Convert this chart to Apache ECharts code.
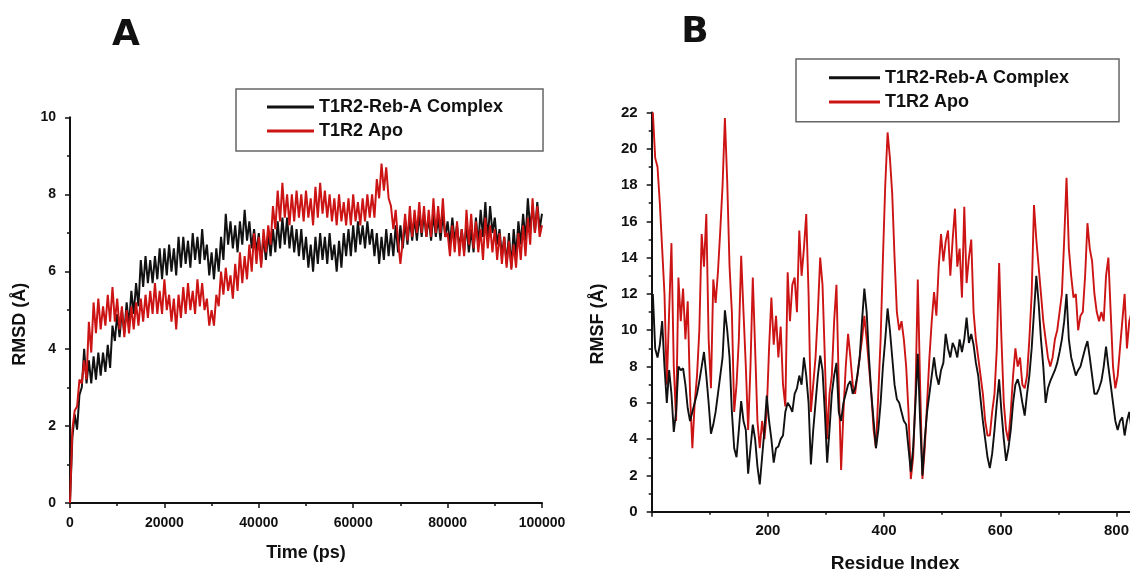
<!DOCTYPE html>
<html>
<head>
<meta charset="utf-8">
<script src="https://cdn.jsdelivr.net/npm/echarts@6/dist/echarts.min.js"></script>
<style>
html,body{margin:0;padding:0;background:#fff;}
#chart{width:1130px;height:572px;}
</style>
</head>
<body>
<div id="chart"></div>
<script>
// ---------- Panel A : RMSD vs time ----------
const RMSD_TIME_STEP = 500; // ps between samples
const rmsdComplex = [
0,1.7,2.3,1.9,2.8,3.0,4.0,3.1,3.7,3.1,
3.8,3.2,3.9,3.3,3.9,3.4,4.1,3.5,4.6,4.2,
4.9,4.3,5.0,4.4,5.2,4.6,5.5,4.9,5.7,5.1,
6.3,5.6,6.4,5.7,6.3,5.7,6.4,5.8,6.6,5.8,
6.6,5.9,6.7,6.0,6.6,5.9,6.9,6.1,6.9,6.2,
6.8,6.1,7.0,6.3,6.9,6.2,7.1,6.3,6.7,5.9,
6.5,5.8,6.6,6.0,6.9,6.3,7.5,6.7,7.3,6.6,
7.2,6.5,7.3,6.7,7.6,6.8,7.3,6.6,7.1,6.5,
7.0,6.2,6.9,6.3,7.0,6.4,7.1,6.5,7.3,6.6,
7.4,6.7,7.4,6.6,7.2,6.5,7.1,6.4,7.1,6.3,
6.9,6.1,6.7,6.0,6.9,6.2,7.0,6.3,6.9,6.2,
7.0,6.3,6.7,6.0,6.8,6.1,7.0,6.4,7.1,6.4,
7.2,6.5,7.3,6.7,7.2,6.6,7.3,6.7,7.1,6.4,
7.0,6.2,6.9,6.3,7.1,6.4,7.0,6.4,7.2,6.5,
7.2,6.6,7.3,6.7,7.4,6.8,7.4,6.8,7.5,6.9,
7.5,6.9,7.4,6.8,7.5,6.9,7.4,6.8,7.5,6.9,
7.3,6.7,7.4,6.8,7.2,6.6,7.1,6.5,7.2,6.5,
7.1,6.5,7.4,6.7,7.6,6.9,7.8,6.8,7.7,7.0,
7.4,6.7,7.1,6.4,6.9,6.2,7.0,6.1,7.1,6.4,
7.3,6.7,7.5,6.8,7.9,7.1,7.7,7.0,7.8,7.1,
7.5];
const rmsdApo = [
0,1.9,2.4,2.5,3.2,3.1,3.7,3.2,4.7,3.9,
5.2,4.4,5.3,4.5,5.1,4.6,5.4,4.7,5.6,4.7,
5.3,4.5,5.1,4.3,5.0,4.4,5.1,4.5,5.2,4.6,
5.3,4.7,5.4,4.8,5.5,4.9,5.7,4.9,5.5,4.9,
5.8,5.0,5.4,4.7,5.3,4.5,5.4,4.8,5.6,4.9,
5.7,5.0,5.5,4.9,5.8,5.1,5.7,5.0,5.3,4.6,
5.0,4.6,5.4,5.1,6.0,5.4,6.1,5.5,5.9,5.3,
6.2,5.5,6.5,5.7,6.4,5.8,6.7,6.0,7.0,6.2,
6.9,6.1,7.1,6.5,7.2,6.7,7.7,7.1,8.1,7.3,
8.3,7.4,8.0,7.2,8.0,7.3,8.1,7.4,8.0,7.3,
8.1,7.4,7.9,7.2,8.2,7.4,8.3,7.5,8.1,7.4,
8.0,7.3,7.9,7.2,8.0,7.3,7.8,7.2,7.9,7.2,
8.0,7.3,7.8,7.2,7.9,7.3,8.0,7.4,8.0,7.4,
8.4,7.9,8.8,8.1,8.7,7.9,7.7,7.1,7.6,6.8,
6.2,6.8,7.5,6.8,7.7,6.9,7.6,7.0,7.8,7.0,
7.7,6.9,7.6,6.9,7.9,7.0,7.7,7.0,7.9,6.9,
7.0,6.4,7.2,6.5,7.3,6.4,7.1,6.4,7.6,6.7,
7.5,6.6,7.3,6.5,7.1,6.3,7.4,6.6,7.2,6.5,
7.1,6.3,7.0,6.2,6.9,6.1,6.8,6.05,6.7,6.1,
7.0,6.3,7.2,6.4,7.4,6.7,7.9,7.0,7.7,6.9,
7.2];
const rmsdXTicks = [0, 20000, 40000, 60000, 80000, 100000];
const rmsdYTicks = [0, 2, 4, 6, 8, 10];

// ---------- Panel B : RMSF vs residue ----------
const RESIDUE_START = 2, RESIDUE_STEP = 4;
const rmsfComplex = [
12.0,9.0,8.5,9.2,10.5,8.0,6.0,7.8,6.5,4.4,
5.5,8.0,7.8,7.9,7.0,5.7,5.0,5.5,6.0,6.5,
7.2,8.0,8.8,7.5,6.0,4.3,4.8,5.5,6.5,7.5,
8.5,11.1,10.0,8.5,5.5,3.5,3.0,4.5,6.1,5.0,
4.5,2.1,3.5,4.8,4.0,2.5,1.5,3.0,4.5,6.4,
5.0,4.0,2.7,3.5,3.6,4.0,4.2,5.5,6.0,5.8,
5.5,6.5,6.8,7.5,7.0,8.5,7.5,6.0,2.6,4.5,
6.0,7.5,8.6,7.8,5.5,2.7,4.5,6.5,7.5,8.2,
5.5,5.0,6.0,6.5,7.0,7.2,6.5,6.8,7.5,8.5,
10.5,12.3,11.0,8.5,6.5,5.0,3.5,4.5,6.0,8.0,
9.5,11.2,10.0,8.5,7.0,6.2,6.0,5.5,5.0,4.8,
3.5,2.2,3.5,6.0,8.7,5.0,2.0,4.0,5.5,6.5,
7.5,8.5,7.5,7.0,7.8,8.2,9.8,9.0,8.5,9.3,
9.0,8.5,9.5,8.8,9.5,10.7,9.3,9.8,9.2,8.2,
7.5,6.2,5.0,4.0,3.0,2.4,3.2,4.5,6.0,7.3,
5.5,4.0,2.8,3.5,4.5,6.0,7.0,7.3,6.8,6.0,
5.3,6.5,7.5,9.0,11.0,13.0,11.5,9.5,8.0,6.0,
6.8,7.2,7.5,7.8,8.2,8.8,9.5,10.5,12.0,9.5,
8.5,8.0,7.5,7.8,8.0,8.5,9.0,9.4,8.5,7.5,
6.5,6.5,6.8,7.2,8.0,9.1,8.0,7.0,6.0,5.0,
4.5,5.0,5.2,4.2,5.0,5.5,4.5,5.0];
const rmsfApo = [
22.0,19.5,19.0,17.0,14.5,12.0,7.0,11.0,14.8,8.0,
5.0,12.9,10.5,12.3,9.5,11.6,6.5,3.5,6.0,7.5,
10.0,15.3,13.5,16.4,9.5,6.8,12.8,11.5,13.2,15.5,
18.0,21.7,18.2,13.5,11.0,5.5,7.0,9.5,14.1,11.0,
8.0,4.5,8.0,12.9,9.0,5.0,3.5,5.0,4.0,5.5,
9.0,11.8,9.2,10.8,8.5,10.2,7.0,5.8,13.2,10.5,
12.5,12.9,11.0,15.5,13.0,14.5,16.4,12.0,5.5,7.0,
8.5,11.0,14.0,12.5,8.5,4.0,6.5,7.5,10.5,12.5,
7.0,2.3,5.5,8.0,9.8,8.5,7.0,6.5,7.5,8.5,
9.5,10.8,9.5,8.0,6.5,4.5,3.5,6.5,9.5,14.0,
18.0,20.9,19.5,17.5,14.0,11.0,10.0,10.5,9.5,8.0,
5.5,1.8,3.0,6.5,12.8,7.0,1.8,3.5,6.0,8.5,
10.5,12.1,10.8,13.5,15.3,13.8,14.9,15.5,13.0,15.0,
16.7,13.5,14.5,11.8,16.8,12.6,14.0,15.0,11.0,9.5,
8.5,7.5,6.5,5.0,4.2,4.2,5.5,6.5,9.0,13.7,
9.5,6.0,4.5,3.9,5.5,7.5,9.0,8.0,8.5,7.0,
6.8,7.5,9.5,12.0,16.9,15.0,13.5,12.0,10.5,9.5,
8.5,8.0,8.5,9.5,10.0,11.0,12.0,15.0,18.4,14.5,
13.0,11.8,12.0,10.0,10.8,11.0,13.0,15.9,14.5,13.8,
12.0,11.0,10.5,11.0,10.5,13.0,14.0,11.0,8.0,6.8,
7.5,9.0,10.5,12.0,9.0,10.5,11.0,9.5];
const rmsfXTicks = [200, 400, 600, 800];
const rmsfYTicks = [0,2,4,6,8,10,12,14,16,18,20,22];
const RMSF_X_MAX = 850; // axis runs past the cropped right edge

const SERIES_NAMES = ['T1R2-Reb-A Complex', 'T1R2 Apo'];
const PANEL_LABELS = ['A', 'B'];

// ---------- build ----------
const FONT = "'Liberation Sans', Arial, sans-serif";
const BLACK = '#111111', RED = '#cc1414';
const pairsTime = arr => arr.map((v, i) => [i * RMSD_TIME_STEP, v]);
const pairsRes = arr => arr.map((v, i) => [RESIDUE_START + i * RESIDUE_STEP, v]);

function axisCommon(fs) {
  return {
    axisLine: { show: true, onZero: false, lineStyle: { color: '#111', width: 2 } },
    axisTick: { show: true, inside: false, length: 5, lineStyle: { color: '#111', width: 1.5 } },
    minorTick: { show: true, splitNumber: 2, length: 3, lineStyle: { color: '#111', width: 1.5 } },
    splitLine: { show: false },
    minorSplitLine: { show: false },
    axisLabel: { color: '#111', fontFamily: FONT, fontWeight: 'bold', fontSize: fs, margin: 13,
      formatter: v => String(v) }
  };
}
function merge(a, b) {
  const o = Object.assign({}, a);
  for (const k in b) {
    if (o[k] && typeof o[k] === 'object' && !Array.isArray(o[k]) && typeof b[k] === 'object' && !Array.isArray(b[k])) o[k] = Object.assign({}, o[k], b[k]);
    else o[k] = b[k];
  }
  return o;
}

const chart = echarts.init(document.getElementById('chart'), null, { renderer: 'canvas' });
const nameStyle = { color: '#111', fontFamily: FONT, fontWeight: 'bold', fontSize: 18 };
const legendText = { color: '#111', fontFamily: FONT, fontWeight: 'bold', fontSize: 18, lineHeight: 18 };

const option = {
  animation: false,
  backgroundColor: '#fff',
  graphic: [
    { type: 'text', x: 126, y: 36, style: { text: PANEL_LABELS[0], font: "bold 36px 'DejaVu Sans', sans-serif", fill: '#111', align: 'center', verticalAlign: 'middle' } },
    { type: 'text', x: 695, y: 33, style: { text: PANEL_LABELS[1], font: "bold 36px 'DejaVu Sans', sans-serif", fill: '#111', align: 'center', verticalAlign: 'middle' } }
  ],
  legend: [
    {
      data: SERIES_NAMES, orient: 'vertical', left: 236, top: 89,
      icon: 'rect', itemWidth: 47, itemHeight: 3, itemGap: 6,
      padding: [9, 40, 11, 31], borderColor: '#666', borderWidth: 1.5,
      selectedMode: false, textStyle: legendText
    },
    {
      data: SERIES_NAMES, orient: 'vertical', left: 796, top: 59,
      icon: 'rect', itemWidth: 51, itemHeight: 3, itemGap: 6.4,
      padding: [9.7, 50, 10.7, 33], borderColor: '#666', borderWidth: 1.5,
      selectedMode: false, textStyle: legendText
    }
  ],
  grid: [
    { left: 70, top: 117.3, width: 472, height: 385.7, containLabel: false, outerBoundsMode: 'none' },
    { left: 651.7, top: 112.5, width: RMSF_X_MAX * 0.581, height: 399.2, containLabel: false, outerBoundsMode: 'none' }
  ],
  xAxis: [
    merge(axisCommon(14), {
      type: 'value', gridIndex: 0, min: rmsdXTicks[0], max: rmsdXTicks[rmsdXTicks.length - 1],
      interval: rmsdXTicks[1] - rmsdXTicks[0],
      name: 'Time (ps)', nameLocation: 'middle', nameGap: 41, nameTextStyle: nameStyle,
      axisLabel: { margin: 13 }
    }),
    merge(axisCommon(15), {
      type: 'value', gridIndex: 1, min: 0, max: RMSF_X_MAX, interval: rmsfXTicks[1] - rmsfXTicks[0],
      name: 'Residue Index', nameLocation: 'middle', nameGap: 43,
      nameTextStyle: merge(nameStyle, { fontSize: 19, padding: [0, 7, 0, 0] }),
      axisLabel: { margin: 12, showMinLabel: false, showMaxLabel: false,
        formatter: v => (rmsfXTicks.indexOf(v) >= 0 ? String(v) : '') }
    })
  ],
  yAxis: [
    merge(axisCommon(14), {
      type: 'value', gridIndex: 0, min: rmsdYTicks[0], max: rmsdYTicks[rmsdYTicks.length - 1],
      interval: rmsdYTicks[1] - rmsdYTicks[0],
      name: 'RMSD (Å)', nameLocation: 'middle', nameGap: 41,
      nameTextStyle: merge(nameStyle, { padding: [0, 28, 0, 0] }),
      axisLabel: { margin: 14 }
    }),
    merge(axisCommon(15), {
      type: 'value', gridIndex: 1, min: rmsfYTicks[0], max: rmsfYTicks[rmsfYTicks.length - 1],
      interval: rmsfYTicks[1] - rmsfYTicks[0],
      name: 'RMSF (Å)', nameLocation: 'middle', nameGap: 45,
      nameTextStyle: merge(nameStyle, { padding: [0, 24, 0, 0] }),
      axisLabel: { margin: 14 }
    })
  ],
  series: [
    { name: SERIES_NAMES[0], type: 'line', xAxisIndex: 0, yAxisIndex: 0, data: pairsTime(rmsdComplex),
      showSymbol: false, symbol: 'none', color: BLACK, lineStyle: { color: BLACK, width: 2 }, z: 2 },
    { name: SERIES_NAMES[1], type: 'line', xAxisIndex: 0, yAxisIndex: 0, data: pairsTime(rmsdApo),
      showSymbol: false, symbol: 'none', color: RED, lineStyle: { color: RED, width: 2 }, z: 3 },
    { name: SERIES_NAMES[1], type: 'line', xAxisIndex: 1, yAxisIndex: 1, data: pairsRes(rmsfApo),
      showSymbol: false, symbol: 'none', color: RED, lineStyle: { color: RED, width: 1.9 }, z: 2 },
    { name: SERIES_NAMES[0], type: 'line', xAxisIndex: 1, yAxisIndex: 1, data: pairsRes(rmsfComplex),
      showSymbol: false, symbol: 'none', color: BLACK, lineStyle: { color: BLACK, width: 1.9 }, z: 3 }
  ]
};
chart.setOption(option);
</script>
</body>
</html>
